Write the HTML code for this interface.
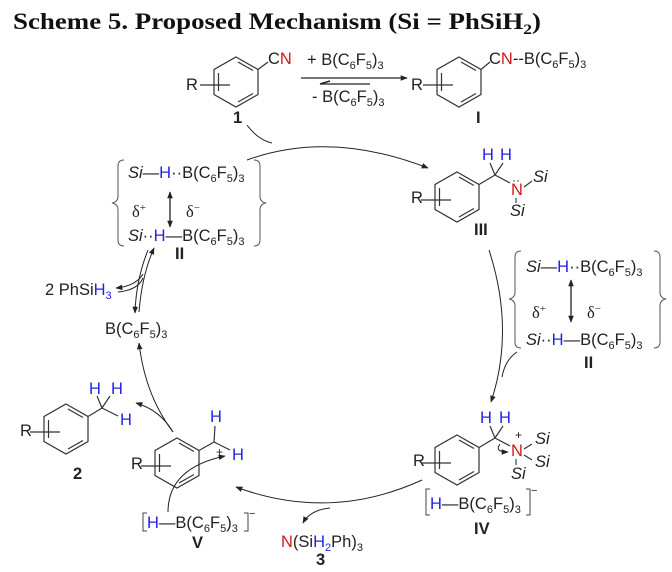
<!DOCTYPE html>
<html><head><meta charset="utf-8"><style>
html,body{margin:0;padding:0;background:#fff;}
svg{display:block;}
text{font-family:"Liberation Sans",sans-serif;font-size:16.5px;fill:#222;}
.b{fill:#2323e6;} .r{fill:#d01818;}
.s{font-size:11px;}
.i{font-style:italic;}
.bold{font-weight:bold;}
</style></head><body>
<svg width="672" height="572" viewBox="0 0 672 572" xmlns="http://www.w3.org/2000/svg">
<defs>
<marker id="ah" viewBox="0 0 10 10" refX="9" refY="5" markerWidth="7" markerHeight="7" orient="auto-start-reverse" markerUnits="userSpaceOnUse"><path d="M0,1 L10,5 L0,9 Z" fill="#222"/></marker>
<g id="ring" fill="none" stroke="#333" stroke-width="1.2">
<path d="M0,-25 L22,-12.5 L22,12.5 L0,25 L-22,12.5 L-22,-12.5 Z"/>
<path d="M2,-20 L17,-11.5 M-17.5,-9 L-17.5,9 M2,20 L17,11.5"/>
<path d="M-36,3 L-6,3"/>
</g>
</defs>

<text x="13" y="29" textLength="528" lengthAdjust="spacingAndGlyphs" style="font-family:'Liberation Serif',serif;font-size:23px;font-weight:bold;fill:#111">Scheme 5. Proposed Mechanism (Si = PhSiH<tspan dy="5" style="font-size:15px">2</tspan><tspan dy="-5">)</tspan></text>

<!-- compound 1 -->
<use href="#ring" x="236" y="82"/>
<path d="M258,69.5 L268,62" stroke="#333" stroke-width="1.2"/>
<text x="186" y="90">R</text>
<text x="268" y="64">C<tspan class="r">N</tspan></text>
<text x="233" y="123" class="bold">1</text>

<!-- equilibrium arrows -->
<path d="M301,78 L407,78" stroke="#222" stroke-width="1.2" marker-end="url(#ah)"/>
<path d="M320,84 L370,84" stroke="#222" stroke-width="1.2"/>
<path d="M320,84 L330,81" stroke="#222" stroke-width="1.5"/>
<text x="307" y="65">+ B(C<tspan class="s" dy="4">6</tspan><tspan dy="-4">F</tspan><tspan class="s" dy="4">5</tspan><tspan dy="-4">)</tspan><tspan class="s" dy="4">3</tspan></text>
<text x="312" y="102">- B(C<tspan class="s" dy="4">6</tspan><tspan dy="-4">F</tspan><tspan class="s" dy="4">5</tspan><tspan dy="-4">)</tspan><tspan class="s" dy="4">3</tspan></text>

<!-- compound I -->
<use href="#ring" x="459" y="82"/>
<path d="M481,69.5 L490,62" stroke="#333" stroke-width="1.2"/>
<text x="411" y="90">R</text>
<text x="489" y="64">C<tspan class="r">N</tspan>--B(C<tspan class="s" dy="4">6</tspan><tspan dy="-4">F</tspan><tspan class="s" dy="4">5</tspan><tspan dy="-4">)</tspan><tspan class="s" dy="4">3</tspan></text>
<text x="476" y="123" class="bold">I</text>

<!-- top arc -->
<path d="M247,125 Q258,140 272,143" fill="none" stroke="#222" stroke-width="1"/>
<path d="M247,160 Q330,130 428,168" fill="none" stroke="#222" stroke-width="1" marker-end="url(#ah)"/>

<!-- left II box -->
<path d="M124,160 Q118,160 118,166 L118,196 Q118,202 112,203 Q118,204 118,210 L118,240 Q118,246 124,246" fill="none" stroke="#555" stroke-width="1"/>
<path d="M254,160 Q260,160 260,166 L260,196 Q260,202 266,203 Q260,204 260,210 L260,240 Q260,246 254,246" fill="none" stroke="#555" stroke-width="1"/>
<text x="128" y="178"><tspan class="i">Si</tspan>—<tspan class="b">H</tspan>··B(C<tspan class="s" dy="4">6</tspan><tspan dy="-4">F</tspan><tspan class="s" dy="4">5</tspan><tspan dy="-4">)</tspan><tspan class="s" dy="4">3</tspan></text>
<text x="132" y="217" style="font-family:'Liberation Serif',serif">δ<tspan dy="-6" class="s">+</tspan></text>
<text x="186" y="217" style="font-family:'Liberation Serif',serif">δ<tspan dy="-6" class="s">−</tspan></text>
<text x="128" y="241"><tspan class="i">Si</tspan>··<tspan class="b">H</tspan>—B(C<tspan class="s" dy="4">6</tspan><tspan dy="-4">F</tspan><tspan class="s" dy="4">5</tspan><tspan dy="-4">)</tspan><tspan class="s" dy="4">3</tspan></text>
<path d="M170,192 L170,227" stroke="#222" stroke-width="1.3" marker-end="url(#ah)" marker-start="url(#ah)"/>
<text x="175" y="259" class="bold">II</text>

<!-- II <-> B(C6F5)3 with PhSiH3 -->
<path d="M139,312 Q142,275 154,248" fill="none" stroke="#222" stroke-width="1" marker-end="url(#ah)"/>
<path d="M148,250 Q136,280 135,313" fill="none" stroke="#222" stroke-width="1" marker-end="url(#ah)"/>
<path d="M143,274 Q136,286 116,288" fill="none" stroke="#222" stroke-width="1" marker-end="url(#ah)"/>
<path d="M143,278 Q138,290 118,292" fill="none" stroke="#222" stroke-width="1"/>
<text x="45" y="295">2 PhSi<tspan class="b">H</tspan><tspan class="s b" dy="4">3</tspan></text>
<text x="105" y="334">B(C<tspan class="s" dy="4">6</tspan><tspan dy="-4">F</tspan><tspan class="s" dy="4">5</tspan><tspan dy="-4">)</tspan><tspan class="s" dy="4">3</tspan></text>

<!-- III -->
<use href="#ring" x="457" y="197"/>
<path d="M479,184.5 L495,175 M495,175 L490,163 M495,175 L503,163 M495,175 L510,183" stroke="#333" stroke-width="1.2" fill="none"/>
<text x="411" y="203">R</text>
<text x="482" y="160" class="b">H</text><text x="500" y="160" class="b">H</text>
<text x="511" y="195" class="r">N</text>
<text x="512" y="184" style="font-size:12px">··</text>
<path d="M524,187 L532,181 M516,198 L516,203" stroke="#333" stroke-width="1.1"/>
<text x="533" y="182" class="i">Si</text>
<text x="510" y="216" class="i">Si</text>
<text x="474" y="235" class="bold">III</text>

<!-- right arc -->
<path d="M489,250 Q515,330 491,402" fill="none" stroke="#222" stroke-width="1" marker-end="url(#ah)"/>
<path d="M517,352 Q505,360 502,377" fill="none" stroke="#222" stroke-width="1"/>

<!-- right II box -->
<path d="M521,251 Q515,251 515,257 L515,292 Q515,298 509,299 Q515,300 515,306 L515,342 Q515,348 521,348" fill="none" stroke="#555" stroke-width="1"/>
<path d="M654,251 Q660,251 660,257 L660,292 Q660,298 666,299 Q660,300 660,306 L660,342 Q660,348 654,348" fill="none" stroke="#555" stroke-width="1"/>
<text x="526" y="272"><tspan class="i">Si</tspan>—<tspan class="b">H</tspan>··B(C<tspan class="s" dy="4">6</tspan><tspan dy="-4">F</tspan><tspan class="s" dy="4">5</tspan><tspan dy="-4">)</tspan><tspan class="s" dy="4">3</tspan></text>
<text x="532" y="318" style="font-family:'Liberation Serif',serif">δ<tspan dy="-6" class="s">+</tspan></text>
<text x="587" y="318" style="font-family:'Liberation Serif',serif">δ<tspan dy="-6" class="s">−</tspan></text>
<text x="526" y="345"><tspan class="i">Si</tspan>··<tspan class="b">H</tspan>—B(C<tspan class="s" dy="4">6</tspan><tspan dy="-4">F</tspan><tspan class="s" dy="4">5</tspan><tspan dy="-4">)</tspan><tspan class="s" dy="4">3</tspan></text>
<path d="M571,280 L571,322" stroke="#222" stroke-width="1.3" marker-end="url(#ah)" marker-start="url(#ah)"/>
<text x="584" y="368" class="bold">II</text>

<!-- IV -->
<use href="#ring" x="457" y="460"/>
<path d="M479,447.5 L495,438 M495,438 L490,426 M495,438 L503,426 M495,438 L510,446" stroke="#333" stroke-width="1.2" fill="none"/>
<text x="413" y="466">R</text>
<text x="480" y="423" class="b">H</text><text x="499" y="423" class="b">H</text>
<text x="515" y="439" style="font-size:12px">+</text>
<text x="511" y="456" class="r">N</text>
<path d="M524,449 L532,444 M524,455 L532,460 M516,459 L516,465" stroke="#333" stroke-width="1.1"/>
<text x="535" y="444" class="i">Si</text>
<text x="535" y="467" class="i">Si</text>
<text x="511" y="479" class="i">Si</text>
<path d="M500,444 Q494,452 508,452" fill="none" stroke="#222" stroke-width="1" marker-end="url(#ah)"/>
<path d="M430,489 L426,489 L426,515 L430,515 M526,489 L530,489 L530,515 L526,515" fill="none" stroke="#444" stroke-width="1"/>
<text x="430" y="509"><tspan class="b">H</tspan>—B(C<tspan class="s" dy="4">6</tspan><tspan dy="-4">F</tspan><tspan class="s" dy="4">5</tspan><tspan dy="-4">)</tspan><tspan class="s" dy="4">3</tspan></text>
<text x="531" y="494" class="s">−</text>
<text x="474" y="534" class="bold">IV</text>

<!-- bottom arc -->
<path d="M422,480 Q330,522 236,487" fill="none" stroke="#222" stroke-width="1" marker-end="url(#ah)"/>
<path d="M330,508 Q310,510 303,523" fill="none" stroke="#222" stroke-width="1" marker-end="url(#ah)"/>
<text x="281" y="547"><tspan class="r">N</tspan>(Si<tspan class="b">H</tspan><tspan class="s b" dy="4">2</tspan><tspan dy="-4">Ph)</tspan><tspan class="s" dy="4">3</tspan></text>
<text x="316" y="565" class="bold">3</text>

<!-- V -->
<use href="#ring" x="177" y="463"/>
<path d="M199,450.5 L214,442 M214,442 L215,426 M214,442 L230,450" stroke="#333" stroke-width="1.2" fill="none"/>
<text x="131" y="469">R</text>
<text x="210" y="422" class="b">H</text>
<text x="232" y="460" class="b">H</text>
<text x="216" y="456" style="font-size:12px">+</text>
<path d="M168,512 Q168,468 225,456" fill="none" stroke="#222" stroke-width="1" marker-end="url(#ah)"/>
<path d="M147,513 L143,513 L143,531 L147,531 M244,513 L248,513 L248,531 L244,531" fill="none" stroke="#444" stroke-width="1"/>
<text x="147" y="528"><tspan class="b">H</tspan>—B(C<tspan class="s" dy="4">6</tspan><tspan dy="-4">F</tspan><tspan class="s" dy="4">5</tspan><tspan dy="-4">)</tspan><tspan class="s" dy="4">3</tspan></text>
<text x="249" y="517" class="s">−</text>
<text x="192" y="548" class="bold">V</text>

<!-- arrows from V -->
<path d="M173,432 Q160,410 136,403" fill="none" stroke="#222" stroke-width="1" marker-end="url(#ah)"/>
<path d="M173,432 Q145,395 139,343" fill="none" stroke="#222" stroke-width="1" marker-end="url(#ah)"/>

<!-- 2 -->
<use href="#ring" x="66" y="429"/>
<path d="M88,416.5 L102,408 M102,408 L97,396 M102,408 L110,396 M102,408 L118,416" stroke="#333" stroke-width="1.2" fill="none"/>
<text x="20" y="436">R</text>
<text x="89" y="394" class="b">H</text><text x="111" y="394" class="b">H</text>
<text x="120" y="425" class="b">H</text>
<text x="73" y="479" class="bold">2</text>
</svg>
</body></html>
